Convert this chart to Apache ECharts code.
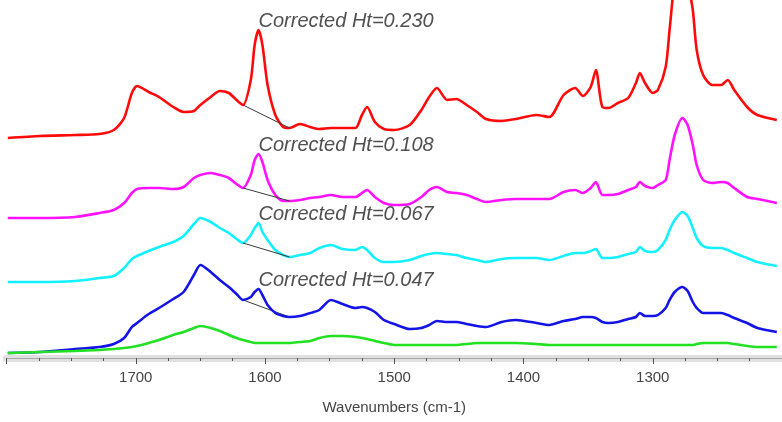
<!DOCTYPE html>
<html>
<head>
<meta charset="utf-8">
<script src="https://cdn.jsdelivr.net/npm/echarts@6/dist/echarts.min.js"></script>
<style>
html,body{margin:0;padding:0;background:#fff;}
#chart{width:782px;height:422px;}
</style>
</head>
<body>
<div id="chart"></div>
<script>
// Wavenumbers (cm-1), shared sample points, high to low
const wavenumbers = [1799,1774,1747,1728,1717,1709,1703,1699,1690,1682,
 1671,1663,1655,1650,1642,1635,1628,1622,1617,1611,
 1608,1605,1602,1598,1592,1586,1581,1573,1565,1558,
 1549,1540,1530,1525,1521,1515,1508,1500,1488,1479,
 1473,1467,1459,1452,1444,1436,1429,1417,1406,1390,
 1380,1369,1360,1354,1348,1344,1339,1334,1327,1319,
 1313,1310,1306,1300,1296,1290,1287,1283,1277,1273,
 1269,1266,1261,1254,1247,1242,1237,1227,1219,1204];

// Offset absorbance traces (arbitrary units, stacked)
const redTrace = [220,222,223,224,228,240,265,272,266,261,
 251,246,247,253,261,267,265,258,253,278,
 313,328,313,273,243,231,230,234,231,229,
 230,230,230,243,251,236,229,228,233,248,
 261,270,258,259,253,246,239,237,239,243,
 241,263,270,262,271,288,251,250,255,260,
 275,285,275,265,268,291,328,378,418,378,
 348,308,283,273,273,278,268,251,243,238];

const magentaTrace = [140,140,141,145,148,155,165,169,170,170,
 169,171,180,183,185,183,180,174,170,183,
 198,204,196,178,163,157,157,158,160,161,
 163,161,161,165,168,161,155,153,154,161,
 168,171,166,165,163,159,156,158,159,159,
 159,166,168,165,170,176,163,163,164,168,
 171,176,172,170,173,178,198,223,240,233,
 213,193,178,175,176,175,170,161,159,155];

const cyanTrace = [76,76,77,80,82,90,99,102,107,111,
 116,122,134,140,136,130,125,119,115,123,
 130,135,126,118,108,103,101,103,105,110,
 113,109,108,111,108,100,96,96,98,102,
 104,105,104,103,100,98,96,99,100,100,
 98,102,105,105,107,109,100,100,101,104,
 106,111,107,106,108,118,128,138,146,142,
 130,120,112,110,110,108,105,100,96,92];

const blueTrace = [5,6,9,11,14,20,31,35,44,50,
 59,66,83,93,86,78,71,64,58,61,
 66,69,63,53,45,42,41,42,45,48,
 58,54,50,51,50,46,38,34,29,30,
 33,37,36,36,34,32,31,36,38,35,
 33,37,39,41,41,40,36,35,36,39,
 41,45,42,42,43,50,58,66,71,67,
 56,50,45,45,45,43,40,35,30,26];

const greenTrace = [5,6,7,8,9,10,11,12,15,18,
 23,26,30,32,30,27,23,20,18,16,
 15,15,15,15,15,15,15,16,17,20,
 22,22,21,20,19,17,15,13,13,13,
 13,13,13,13,14,15,15,15,15,14,
 13,13,13,13,13,13,13,13,13,13,
 13,13,13,13,13,13,13,13,13,13,
 13,14,15,15,15,15,14,12,11,11];

// Annotations (peak at ~1605 cm-1, baseline drawn 1617 -> 1581)
const annotationTexts = ['Corrected Ht=0.230','Corrected Ht=0.108','Corrected Ht=0.067','Corrected Ht=0.047'];
const peakWavenumber = 1605;
const baselineFrom = 1617;
const baselineTo = 1581;

// Axis
const axisMin = 1200, axisMax = 1800, majorStep = 100;
const axisTitle = 'Wavenumbers (cm-1)';

const traces = [redTrace, magentaTrace, cyanTrace, blueTrace, greenTrace];
const colors = ['#ff0a0a', '#ff12ff', '#14f0ff', '#1414e6', '#22e022'];

function pairs(arr){ return wavenumbers.map((w,i)=>[w, arr[i]]); }
function valAt(arr, w){ return arr[wavenumbers.indexOf(w)]; }

const series = traces.map((tr, i) => {
  const s = {
    type: 'line',
    data: pairs(tr),
    showSymbol: false,
    smooth: 0.25,
    clip: true,
    lineStyle: { color: colors[i], width: 2.6 },
    itemStyle: { color: colors[i] },
    z: 2 + i
  };
  if (i < annotationTexts.length) {
    s.markLine = {
      silent: true,
      symbol: ['none','none'],
      label: { show: false },
      lineStyle: { color: '#3a3a3a', width: 1, type: 'solid' },
      data: [[{ coord: [baselineFrom, valAt(tr, baselineFrom)] }, { coord: [baselineTo, valAt(tr, baselineTo)] }]]
    };
    s.markPoint = {
      silent: true,
      symbol: 'circle',
      symbolSize: 0,
      data: [{ coord: [peakWavenumber, valAt(tr, peakWavenumber)] }],
      label: {
        show: true,
        position: 'right',
        distance: 0,
        offset: [0, -9],
        formatter: annotationTexts[i],
        fontFamily: 'Liberation Sans, Arial, sans-serif',
        fontStyle: 'italic',
        fontSize: 20,
        color: '#505050'
      }
    };
  }
  return s;
});

const chart = echarts.init(document.getElementById('chart'), null, { renderer: 'canvas' });
chart.setOption({
  animation: false,
  backgroundColor: '#ffffff',
  grid: { left: 6.5, top: 0, width: 781, height: 358 },
  xAxis: [
    {
      type: 'value', min: axisMin, max: axisMax, interval: majorStep, inverse: true,
      position: 'bottom',
      axisLine: { show: true, lineStyle: { color: '#e0e0e0', width: 7 } },
      axisTick: { show: false }, axisLabel: { show: false }, splitLine: { show: false }
    },
    {
      type: 'value', min: axisMin, max: axisMax, interval: majorStep, inverse: true,
      position: 'bottom',
      name: axisTitle, nameLocation: 'middle', nameGap: 42,
      nameTextStyle: { fontFamily: 'Liberation Sans, Arial, sans-serif', fontSize: 15, color: '#444' },
      axisLine: { show: true, lineStyle: { color: '#a8a8a8', width: 1 } },
      axisTick: { show: true, length: 6, lineStyle: { color: '#555' } },
      minorTick: { show: true, splitNumber: 4, length: 3, lineStyle: { color: '#555' } },
      axisLabel: {
        show: true, margin: 12, showMinLabel: false, showMaxLabel: false,
        formatter: function (v) { return String(v); },
        fontFamily: 'Liberation Sans, Arial, sans-serif', fontSize: 15, color: '#444'
      },
      splitLine: { show: false }
    }
  ],
  yAxis: { type: 'value', min: 0, max: 358, show: false },
  series: series
});
</script>
</body>
</html>
